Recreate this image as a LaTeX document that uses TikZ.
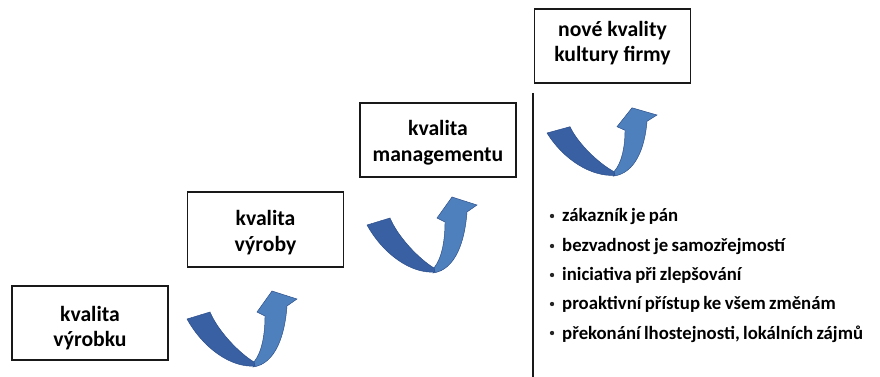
\documentclass[tikz,border=0pt]{standalone}
\usepackage{fontspec}
\setmainfont{Carlito}
\definecolor{arrdark}{RGB}{56,96,163}
\definecolor{arrlight}{RGB}{78,128,190}
\definecolor{arredge}{RGB}{42,76,135}
\newcommand\mytightspace{\spaceskip=0.18em plus 0.05em\relax}
\begin{document}
\begin{tikzpicture}[x=0.03cm,y=-0.03cm,
  qbox/.style={draw=black!90, line width=1.6pt, fill=white, minimum width=4.68cm, minimum height=2.24cm, inner sep=0pt},
  qtext/.style={align=center, inner sep=0pt, font=\fontsize{18.5}{22}\selectfont\bfseries},
  btext/.style={anchor=base west, inner sep=0pt, font=\fontsize{16}{19}\selectfont\bfseries, execute at begin node=\mytightspace},
  bdot/.style={circle, fill=black!85, inner sep=0pt, minimum size=0.13cm},
  uarrow/.pic={
    \filldraw[fill=arrlight, draw=arredge, line width=0.4pt]
      (67,43) .. controls (75,33) and (78,15) .. (78,-3) -- (70,-7) -- (85,-28) -- (110,-20) -- (100,-13)
      .. controls (98,15) and (89,45) .. (66,48) -- cycle;
    \filldraw[fill=arrdark, draw=arredge, line width=0.4pt]
      (0,0) .. controls (16,29) and (44,49) .. (68,47) -- (67,43)
      .. controls (52,34) and (31,12) .. (23,-7) -- cycle;
  }]
\useasboundingbox (0,0) rectangle (880,377);

\node[qbox] (q1) at (90,323) {};
\node[qbox] (q2) at (265.5,229.5) {};
\node[qbox] (q3) at (438,140) {};
\node[qbox] (q4) at (612.5,46) {};
\node[qtext] (l1) at ([yshift=-0.15cm]q1.center) {kvalita\\výrobku};
\node[qtext] (l2) at ([yshift=-0.09cm]q2.center) {kvalita\\výroby};
\node[qtext] (l3) at ([yshift=-0.09cm]q3.center) {kvalita\\managementu};
\node[qtext] (l4) at ([yshift=0.09cm]q4.center) {nové kvality\\kultury firmy};

\pic at (187,319) {uarrow};
\pic at (367,225) {uarrow};
\pic[yscale=0.9] at (547,133) {uarrow};

\coordinate (vtop) at (533,93);
\coordinate (vbot) at (533,377);
\draw[line width=1.5pt, black!90] (vtop) -- (vbot);

\node[bdot] (d1) at (552,216) {};
\node[btext] (t1) at (562,222) {zákazník je pán};
\node[bdot] (d2) at (552,246) {};
\node[btext] (t2) at (562,252) {bezvadnost je samozřejmostí};
\node[bdot] (d3) at (552,275) {};
\node[btext] (t3) at (562,281) {iniciativa při zlepšování};
\node[bdot] (d4) at (552,304) {};
\node[btext] (t4) at (562,310) {proaktivní přístup ke všem změnám};
\node[bdot] (d5) at (552,333) {};
\node[btext] (t5) at (562,339) {překonání lhostejnosti, lokálních zájmů};
\end{tikzpicture}
\end{document}
